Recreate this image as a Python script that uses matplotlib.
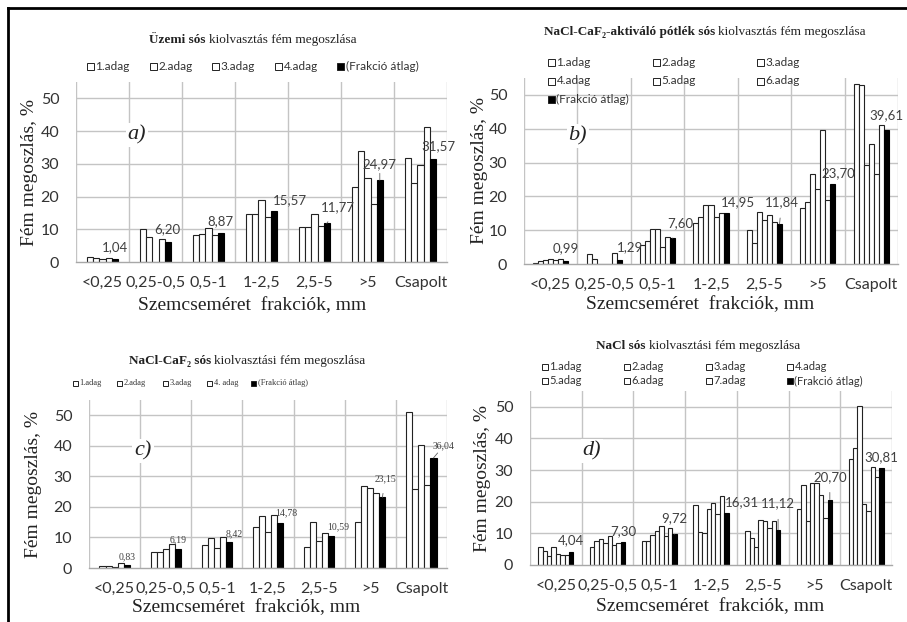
import numpy as np
import matplotlib
matplotlib.use("Agg")
import matplotlib.pyplot as plt
from matplotlib.patches import Rectangle
from matplotlib.lines import Line2D

W, H = 907, 622
SERIF = ['Liberation Serif', 'DejaVu Serif']
SANS = ['Lato', 'DejaVu Sans']

categories = ['<0,25', '0,25-0,5', '0,5-1', '1-2,5', '2,5-5', '>5', 'Csapolt']

# ---- panel a) ----
a_series = [
    [1.5, 10.2, 8.4, 14.8, 10.8, 22.8, 31.8],
    [1.1, 7.7, 8.5, 14.8, 10.6, 33.8, 24.0],
    [0.8, 0.0, 10.5, 19.0, 14.8, 25.8, 29.6],
    [1.2, 7.0, 8.1, 13.7, 11.0, 17.8, 41.2],
]
a_avg = [1.04, 6.20, 8.87, 15.57, 11.77, 24.97, 31.57]
a_labels = ['1.adag', '2.adag', '3.adag', '4.adag', '(Frakció átlag)']

# ---- panel b) ----
b_series = [
    [0.3, 3.0, 5.5, 12.2, 10.0, 16.6, 53.2],
    [1.0, 1.6, 6.8, 13.8, 6.2, 18.4, 52.8],
    [1.2, 0.0, 10.3, 17.5, 15.3, 26.6, 29.3],
    [1.4, 0.0, 10.4, 17.5, 13.0, 22.3, 35.4],
    [1.3, 0.0, 5.0, 13.8, 14.4, 39.6, 26.6],
    [1.4, 3.2, 7.9, 15.0, 12.5, 19.0, 41.0],
]
b_avg = [0.99, 1.29, 7.60, 14.95, 11.84, 23.70, 39.61]
b_labels = ['1.adag', '2.adag', '3.adag', '4.adag', '5.adag', '6.adag', '(Frakció átlag)']

# ---- panel c) ----
c_series = [
    [0.7, 5.4, 7.5, 13.3, 7.0, 15.0, 51.2],
    [0.7, 5.4, 9.8, 17.0, 15.0, 26.7, 25.8],
    [0.4, 6.1, 6.5, 11.8, 9.0, 26.2, 40.3],
    [1.5, 7.8, 10.0, 17.2, 11.5, 24.7, 27.3],
]
c_avg = [0.83, 6.19, 8.42, 14.78, 10.59, 23.15, 36.04]
c_labels = ['1.adag', '2.adag', '3.adag', '4. adag', '(Frakció átlag)']

# ---- panel d) ----
d_series = [
    [5.6, 5.8, 7.6, 19.0, 10.6, 17.8, 33.5],
    [4.5, 7.6, 7.6, 10.3, 8.4, 25.2, 37.0],
    [3.0, 8.3, 9.4, 10.2, 5.6, 13.8, 50.2],
    [5.6, 7.0, 10.6, 17.8, 14.3, 25.8, 19.3],
    [3.5, 9.2, 12.2, 19.5, 13.8, 25.8, 17.0],
    [3.3, 6.4, 9.3, 16.0, 11.8, 22.0, 31.0],
    [3.1, 6.8, 11.8, 21.8, 14.0, 14.8, 27.8],
]
d_avg = [4.04, 7.30, 9.72, 16.31, 11.12, 20.70, 30.81]
d_labels = ['1.adag', '2.adag', '3.adag', '4.adag', '5.adag', '6.adag', '7.adag', '(Frakció átlag)']

fig = plt.figure(figsize=(W / 100, H / 100), dpi=100)
fig.patch.set_facecolor('white')


def fx(px):
    return px / W


def fy(py):
    return 1 - py / H


def mixed_title(xc, yc, bold, normal, size):
    r = fig.canvas.get_renderer()
    t1 = fig.text(0, fy(yc), bold, weight='bold', family=SERIF, size=size,
                  va='center', ha='left', color='#222222')
    t2 = fig.text(0, fy(yc), normal, family=SERIF, size=size,
                  va='center', ha='left', color='#222222')
    w1 = t1.get_window_extent(r).width
    w2 = t2.get_window_extent(r).width
    x0 = xc - (w1 + w2) / 2
    t1.set_x(fx(x0))
    t2.set_x(fx(x0 + w1))


def legend_items(labels, positions, size, fs, family):
    n = len(labels)
    for i, (lab, (x, y)) in enumerate(zip(labels, positions)):
        fill = 'black' if i == n - 1 else 'white'
        fig.patches.append(Rectangle((fx(x), fy(y + size / 2)), size / W, size / H,
                                     transform=fig.transFigure, facecolor=fill,
                                     edgecolor='#222222', lw=0.7))
        fig.text(fx(x + size + 1.5), fy(y), lab, family=family, size=fs,
                 va='center', ha='left', color='#333333')


def panel(rect, series, avg, group_w, label_style, letter, letter_pos,
          ylab_x, xlab_xy, label_fs, label_family, tick_fs=11.5):
    ax = fig.add_axes(rect)
    n = len(series) + 1
    bw = group_w / n
    centers = np.arange(len(categories)) + 0.5
    for i, s in enumerate(series):
        off = -group_w / 2 + bw * (i + 0.5)
        ax.bar(centers + off, s, width=bw, facecolor='white', edgecolor='#222222',
               lw=0.8, zorder=3)
    off = -group_w / 2 + bw * (n - 0.5)
    ax.bar(centers + off, avg, width=bw, facecolor='black', edgecolor='black',
           lw=0.8, zorder=3)
    ax.set_xlim(0, 7)
    ax.set_ylim(0, 55)
    ax.set_yticks([0, 10, 20, 30, 40, 50])
    ax.set_xticks(centers)
    ax.set_xticklabels(categories)
    ax.grid(False)
    for yv in [10, 20, 30, 40, 50]:
        ax.axhline(yv, color='#c4c4c4', lw=1.0, zorder=1)
    for xv in np.arange(8):
        ax.axvline(xv, color='#c4c4c4', lw=1.0, zorder=1)
    for sp in ['top', 'right', 'left']:
        ax.spines[sp].set_visible(False)
    ax.spines['bottom'].set_color('#a8a8a8')
    ax.spines['bottom'].set_linewidth(1.0)
    ax.spines['bottom'].set_zorder(4)
    ax.tick_params(axis='both', which='both', length=0, labelsize=tick_fs,
                   colors='#333333')
    ax.tick_params(axis='x', pad=10)
    ax.tick_params(axis='y', pad=12)
    for lab in ax.get_xticklabels() + ax.get_yticklabels():
        lab.set_family(SANS)
    ax.set_ylabel('Fém megoszlás, %', size=14, color='#222222')
    ax.yaxis.label.set_family(SERIF)
    ax.yaxis.label.set_va('center')
    ax.yaxis.set_label_coords(ylab_x, 0.5)
    ax.set_xlabel('Szemcseméret  frakciók, mm', size=14, color='#222222')
    ax.xaxis.label.set_family(SERIF)
    ax.xaxis.label.set_va('center')
    ax.xaxis.set_label_coords(*xlab_xy)
    ax.text(letter_pos[0], letter_pos[1], letter, transform=ax.transAxes,
            family=SERIF, style='italic', size=16, ha='center', va='center',
            color='#222222', zorder=2,
            bbox=dict(facecolor='white', edgecolor='none', pad=1.5))
    for j, v in enumerate(avg):
        dx, dy, leader = label_style[j]
        bx = centers[j] + off
        txt = f'{v:.2f}'.replace('.', ',')
        if leader:
            ax.annotate(txt, xy=(bx, v), xytext=(bx + dx, v + dy),
                        ha='center', va='center', size=label_fs, family=label_family,
                        color='#404040', zorder=5,
                        arrowprops=dict(arrowstyle='-', color='#606060', lw=0.6,
                                        shrinkA=5, shrinkB=0))
        else:
            ax.text(bx + dx, v + dy, txt, ha='center', va='center', size=label_fs,
                    family=label_family, color='#404040', zorder=5)
    return ax


# frame lines
fig.lines.append(Line2D([fx(8), fx(8)], [fy(8), fy(622)], transform=fig.transFigure,
                        color='black', lw=2))
fig.lines.append(Line2D([fx(8), fx(907)], [fy(8), fy(8)], transform=fig.transFigure,
                        color='black', lw=2))

# a)
panel([fx(76), fy(262), 371 / W, 180 / H], a_series, a_avg, 0.58,
      [(0, 3.6, False), (0, 3.8, False), (0, 3.6, False), (0.30, 3.3, False),
       (0.2, 5.0, True), (0, 4.8, True), (0.1, 3.7, False)],
      'a)', (0.164, 0.706), -0.124, (0.474, -0.24), 9.5, SANS)
mixed_title(253, 40, 'Üzemi sós ', 'kiolvasztás fém megoszlása', 9.5)
legend_items(a_labels, [(87, 66), (150, 66), (212, 66), (275, 66), (337, 66)], 7, 8.5, SANS)

# b)
panel([fx(524), fy(264), 374 / W, 186 / H], b_series, b_avg, 0.66,
      [(0, 3.7, False), (0.2, 3.7, False), (0.15, 4.5, True), (0.22, 3.3, False),
       (0.04, 6.4, True), (0.1, 3.1, False), (0, 4.5, False)],
      'b)', (0.144, 0.688), -0.118, (0.47, -0.22), 9.5, SANS)
mixed_title(705, 32, 'NaCl-CaF₂-aktiváló pótlék sós ', 'kiolvasztás fém megoszlása', 9.5)
legend_items(b_labels, [(548, 62), (653, 62), (757, 62), (548, 81), (653, 81),
                        (757, 81), (548, 99)], 7, 8.5, SANS)

# c)
panel([fx(89), fy(568), 358 / W, 168 / H], c_series, c_avg, 0.59,
      [(0, 2.8, False), (0, 3.0, False), (0.1, 2.8, False), (0.12, 3.2, False),
       (0.14, 2.9, False), (0.06, 5.9, True), (0.2, 4.0, True)],
      'c)', (0.151, 0.696), -0.156, (0.44, -0.238), 7, SERIF)
mixed_title(247, 361, 'NaCl-CaF₂ sós ', 'kiolvasztási fém megoszlása', 9.5)
legend_items(c_labels, [(73, 383), (117, 383), (163, 383), (207, 383), (251, 383)],
             5, 6, SERIF)

# d)
panel([fx(530), fy(565), 362 / W, 174 / H], d_series, d_avg, 0.68,
      [(0, 3.8, False), (0, 3.4, False), (0, 5.0, True), (0.31, 3.5, False),
       (0, 8.3, True), (0, 7.2, True), (0, 3.4, False)],
      'd)', (0.171, 0.655), -0.13, (0.497, -0.241), 9.5, SANS)
mixed_title(698, 346, 'NaCl sós ', 'kiolvasztási fém megoszlása', 9.5)
legend_items(d_labels, [(542, 367), (624, 367), (706, 367), (787, 367), (542, 381),
                        (624, 381), (706, 381), (787, 381)], 6, 8, SANS)

fig.savefig('out.png', dpi=100)
